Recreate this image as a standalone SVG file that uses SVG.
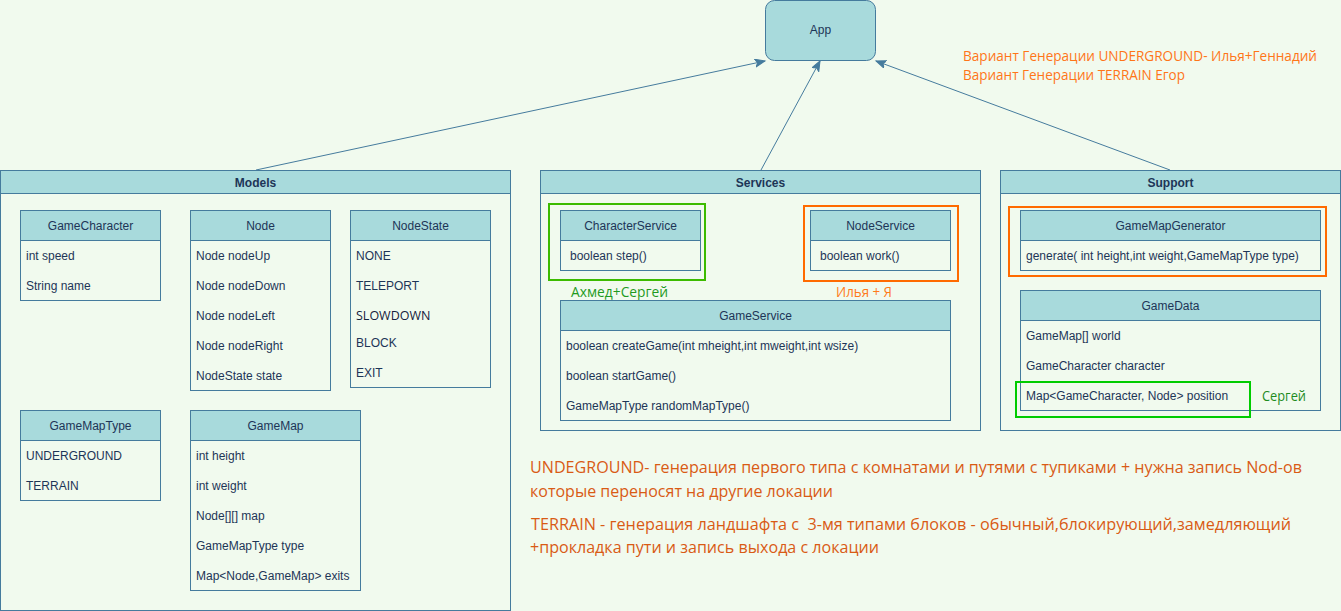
<svg xmlns="http://www.w3.org/2000/svg" width="1341" height="611" viewBox="0 0 1341 611">
<defs>
<marker id="arr" markerUnits="userSpaceOnUse" markerWidth="12" markerHeight="10" refX="10" refY="4" orient="auto">
<path d="M0,0 L10,4 L0,8 L2.5,4 Z" fill="#457B9D" stroke="#457B9D" stroke-width="1"/>
</marker>
<style>
.c{fill:#F1FAEE;stroke:#457B9D;stroke-width:1}
.h{fill:#A8DADC;stroke:#457B9D;stroke-width:1}
.t{font-family:"Liberation Sans",Arial,sans-serif;font-size:12px;fill:#1D3557}
.m{text-anchor:middle}
.b{font-weight:bold}
.e{stroke:#457B9D;stroke-width:1;fill:none}
.og{fill:none;stroke:#FF6A00;stroke-width:2}
.gg{fill:none;stroke-width:2}
.n{font-family:"Open Sans","Noto Sans",sans-serif}
</style>
</defs>
<rect x="0" y="0" width="1341" height="611" fill="#F1FAEE"/>

<g id="connectors">
<line class="e" x1="256" y1="170" x2="765" y2="61" marker-end="url(#arr)"/>
<line class="e" x1="761" y1="170" x2="820" y2="61" marker-end="url(#arr)"/>
<line class="e" x1="1170" y1="170" x2="876" y2="61" marker-end="url(#arr)"/>
</g>

<g id="app">
<rect x="765.5" y="0.5" width="110" height="60" rx="9" ry="9" class="h"/>
<text x="820.5" y="34" class="t m">App</text>
</g>

<g id="notes-top">
<text x="963" y="60.7" class="n" font-size="14" fill="#FF7518" textLength="354" lengthAdjust="spacingAndGlyphs">Вариант Генерации UNDERGROUND- Илья+Геннадий</text>
<text x="963" y="80" class="n" font-size="14" fill="#FF7518" textLength="222" lengthAdjust="spacingAndGlyphs">Вариант Генерации TERRAIN Егор</text>
</g>

<g id="models">
<rect x="0.5" y="170.5" width="510" height="440" class="c"/>
<rect x="0.5" y="170.5" width="510" height="23" class="h"/>
<text x="255.5" y="186.5" class="t m b">Models</text>
</g>

<g id="gamecharacter">
<rect x="20.5" y="210.5" width="140" height="90" class="c"/>
<rect x="20.5" y="210.5" width="140" height="30" class="h"/>
<text x="90.5" y="229.5" class="t m">GameCharacter</text>
<text x="26" y="259.5" class="t">int speed</text>
<text x="26" y="289.5" class="t">String name</text>
</g>

<g id="node">
<rect x="190.5" y="210.5" width="140" height="180" class="c"/>
<rect x="190.5" y="210.5" width="140" height="30" class="h"/>
<text x="260.5" y="229.5" class="t m">Node</text>
<text x="196" y="259.5" class="t">Node nodeUp</text>
<text x="196" y="289.5" class="t">Node nodeDown</text>
<text x="196" y="319.5" class="t">Node nodeLeft</text>
<text x="196" y="349.5" class="t">Node nodeRight</text>
<text x="196" y="379.5" class="t">NodeState state</text>
</g>

<g id="nodestate">
<rect x="350.5" y="210.5" width="140" height="177" class="c"/>
<rect x="350.5" y="210.5" width="140" height="30" class="h"/>
<text x="420.5" y="229.5" class="t m">NodeState</text>
<text x="356" y="260" class="t">NONE</text>
<text x="356" y="290" class="t">TELEPORT</text>
<text x="356" y="320" class="n" font-size="12.5" fill="#14213D">SLOWDOWN</text>
<text x="356" y="347" class="t">BLOCK</text>
<text x="356" y="377" class="t">EXIT</text>
</g>

<g id="gamemaptype">
<rect x="20.5" y="410.5" width="140" height="90" class="c"/>
<rect x="20.5" y="410.5" width="140" height="30" class="h"/>
<text x="90.5" y="429.5" class="t m">GameMapType</text>
<text x="26" y="459.5" class="t">UNDERGROUND</text>
<text x="26" y="489.5" class="t">TERRAIN</text>
</g>

<g id="gamemap">
<rect x="190.5" y="410.5" width="170" height="180" class="c"/>
<rect x="190.5" y="410.5" width="170" height="30" class="h"/>
<text x="275.5" y="429.5" class="t m">GameMap</text>
<text x="196" y="459.5" class="t">int height</text>
<text x="196" y="489.5" class="t">int weight</text>
<text x="196" y="519.5" class="t">Node[][] map</text>
<text x="196" y="549.5" class="t">GameMapType type</text>
<text x="196" y="579.5" class="t">Map&lt;Node,GameMap&gt; exits</text>
</g>

<g id="services">
<rect x="540.5" y="170.5" width="440" height="260" class="c"/>
<rect x="540.5" y="170.5" width="440" height="23" class="h"/>
<text x="760.5" y="186.5" class="t m b">Services</text>
</g>

<g id="characterservice">
<rect x="560.5" y="210.5" width="140" height="60" class="c"/>
<rect x="560.5" y="210.5" width="140" height="30" class="h"/>
<text x="630.5" y="229.5" class="t m">CharacterService</text>
<text x="570" y="259.5" class="t">boolean step()</text>
<rect x="549" y="204" width="156" height="76" class="gg" stroke="#3CBB00"/>
<text x="571" y="297" class="n" font-size="14" fill="#1F9A1F" textLength="97" lengthAdjust="spacingAndGlyphs">Ахмед+Сергей</text>
</g>

<g id="nodeservice">
<rect x="810.5" y="210.5" width="140" height="60" class="c"/>
<rect x="810.5" y="210.5" width="140" height="30" class="h"/>
<text x="880.5" y="229.5" class="t m">NodeService</text>
<text x="820" y="259.5" class="t">boolean work()</text>
<rect x="804" y="206" width="154" height="75" class="og"/>
<text x="836" y="297" class="n" font-size="14" fill="#FF7A1A" textLength="56" lengthAdjust="spacingAndGlyphs">Илья + Я</text>
</g>

<g id="gameservice">
<rect x="560.5" y="300.5" width="390" height="120" class="c"/>
<rect x="560.5" y="300.5" width="390" height="30" class="h"/>
<text x="755.5" y="319.5" class="t m">GameService</text>
<text x="566" y="349.5" class="t">boolean createGame(int mheight,int mweight,int wsize)</text>
<text x="566" y="379.5" class="t">boolean startGame()</text>
<text x="566" y="409.5" class="t">GameMapType randomMapType()</text>
</g>

<g id="support">
<rect x="1000.5" y="170.5" width="340" height="260" class="c"/>
<rect x="1000.5" y="170.5" width="340" height="23" class="h"/>
<text x="1170.5" y="186.5" class="t m b">Support</text>
</g>

<g id="gamemapgenerator">
<rect x="1020.5" y="210.5" width="300" height="60" class="c"/>
<rect x="1020.5" y="210.5" width="300" height="30" class="h"/>
<text x="1170.5" y="229.5" class="t m">GameMapGenerator</text>
<text x="1026" y="259.5" class="t">generate( int height,int weight,GameMapType type)</text>
<rect x="1009" y="207" width="317" height="69" class="og"/>
</g>

<g id="gamedata">
<rect x="1020.5" y="290.5" width="300" height="120" class="c"/>
<rect x="1020.5" y="290.5" width="300" height="30" class="h"/>
<text x="1170.5" y="309.5" class="t m">GameData</text>
<text x="1026" y="339.5" class="t">GameMap[] world</text>
<text x="1026" y="369.5" class="t">GameCharacter character</text>
<text x="1026" y="399.5" class="t">Map&lt;GameCharacter, Node&gt; position</text>
<rect x="1016" y="382" width="234" height="35" class="gg" stroke="#00CC00"/>
<text x="1262" y="401" class="n" font-size="14" fill="#1E8C1E" textLength="44" lengthAdjust="spacingAndGlyphs">Сергей</text>
</g>

<g id="notes-bottom">
<text x="530" y="473.3" class="n" font-size="16" fill="#D95B15" textLength="772" lengthAdjust="spacingAndGlyphs">UNDEGROUND- генерация первого типа с комнатами и путями с тупиками + нужна запись Nod-ов</text>
<text x="530" y="496.5" class="n" font-size="16" fill="#D95B15" textLength="303" lengthAdjust="spacingAndGlyphs">которые переносят на другие локации</text>
<text x="531" y="530" class="n" font-size="16" fill="#D95B15" textLength="760" lengthAdjust="spacingAndGlyphs" xml:space="preserve">TERRAIN - генерация ландшафта с  3-мя типами блоков - обычный,блокирующий,замедляющий</text>
<text x="530" y="553" class="n" font-size="16" fill="#D95B15" textLength="349" lengthAdjust="spacingAndGlyphs">+прокладка пути и запись выхода с локации</text>
</g>
</svg>
